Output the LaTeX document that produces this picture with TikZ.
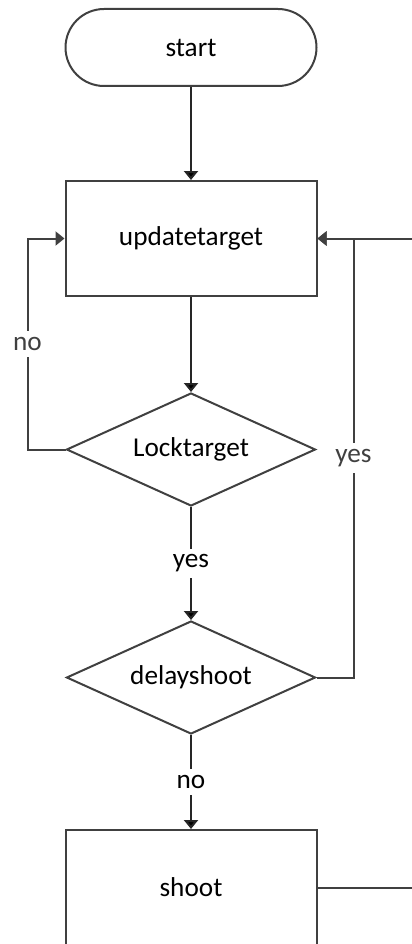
\documentclass[tikz,border=0pt]{standalone}
\usepackage{fontspec}
\setmainfont{Carlito}
\usetikzlibrary{positioning,shapes.geometric,arrows.meta}

\begin{document}
\begin{tikzpicture}[
  line width=0.04cm,>={Triangle[length=0.18cm,width=0.28cm]},
  every node/.style={font=\fontsize{15.5}{17}\selectfont,inner sep=0pt},
  terminal/.style={draw=black!75,rectangle,rounded corners=0.77cm,minimum width=5.02cm,minimum height=1.54cm},
  process/.style={draw=black!75,rectangle,minimum width=5.02cm,minimum height=2.3cm},
  decision/.style={draw=black!75,diamond,aspect=2.2,minimum width=4.98cm,minimum height=2.26cm},
  label node/.style={fill=white,inner sep=0.12cm},
  ]
  \useasboundingbox (0,0) rectangle (8.24,-18.88);
  \clip (0,0) rectangle (8.24,-18.88);
  \node[terminal](start) at (3.82,-0.95){start};
  \node[process,below=1.86cm of start](update){updatetarget};
  \node[decision,below=1.9cm of update](lock){Locktarget};
  \node[decision,below=2.26cm of lock](delay){delayshoot};
  \node[process,below=1.88cm of delay](shoot){shoot};
  \path[->,draw=black!85]
  (start) edge (update)
  (update) edge (lock)
  (lock) edge node[label node]{yes} (delay)
  (delay) edge node[label node]{no} (shoot);
  \draw[->,black!75] (lock.west) -- ++(-0.76,0) |- node[pos=0.25,label node]{no} (update.west);
  \draw[->,black!75] (delay.east) -- ++(0.74,0) |- node[pos=0.25,label node]{yes} (update.east);
  \draw[->,black!75] (shoot.east) -- ++(2.2,0) |- (update.east);
\end{tikzpicture}
\end{document}
